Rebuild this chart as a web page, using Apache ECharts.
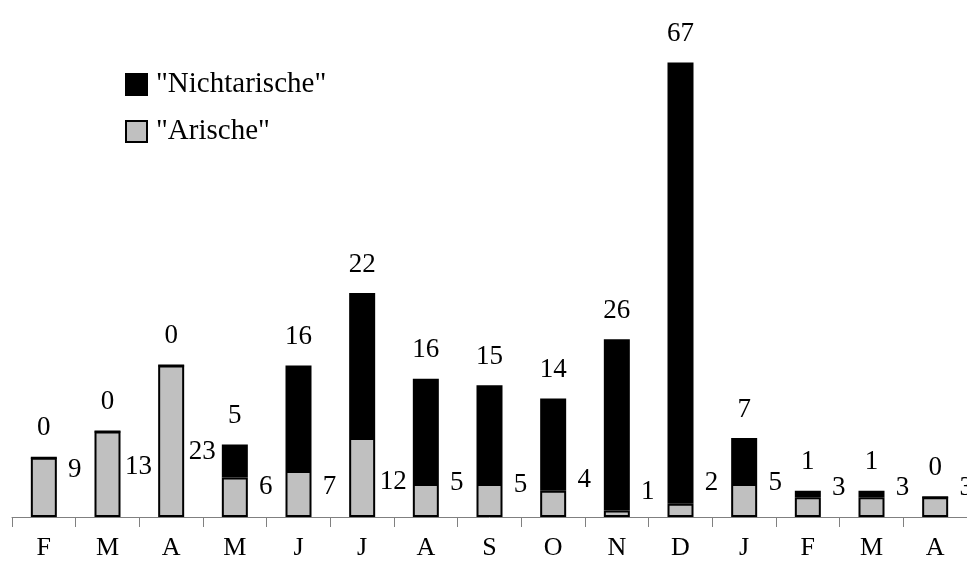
<!DOCTYPE html>
<html>
<head>
<meta charset="utf-8">
<script src="https://cdn.jsdelivr.net/npm/echarts@6/dist/echarts.min.js"></script>
<style>
  html, body { margin: 0; padding: 0; background: #fff; }
  #chart { width: 967px; height: 565px; }
</style>
</head>
<body>
<div id="chart"></div>
<script>
// Monate (Feb bis Apr des Folgejahres)
const months = ['F', 'M', 'A', 'M', 'J', 'J', 'A', 'S', 'O', 'N', 'D', 'J', 'F', 'M', 'A']
const arische = [9, 13, 23, 6, 7, 12, 5, 5, 4, 1, 2, 5, 3, 3, 3]
const nichtarische = [0, 0, 0, 5, 16, 22, 16, 15, 14, 26, 67, 7, 1, 1, 0]

// how far above the axis the grey labels sit (px), as placed in the original
const arischeLabelRise = [47, 50, 65, 30, 30, 35, 34, 32, 37, 25, 34, 34, 29, 29, 29]

const serif = '"Liberation Serif", "DejaVu Serif", serif'

const chart = echarts.init(document.getElementById('chart'))

const option = {
  backgroundColor: '#fff',
  animation: false,
  grid: { left: 12, right: 0, top: 56, bottom: 48 },
  legend: {
    orient: 'vertical',
    left: 120,
    top: 65,
    itemWidth: 21,
    itemHeight: 21,
    itemGap: 18,
    icon: 'rect',
    data: ['"Nichtarische"', '"Arische"'],
    textStyle: {
      fontFamily: serif,
      fontSize: 29,
      color: '#000',
      padding: [0, 0, 0, 4],
    },
  },
  xAxis: {
    type: 'category',
    data: months,
    axisLine: { lineStyle: { color: '#808080', width: 1 } },
    axisTick: { show: true, length: 10, lineStyle: { color: '#808080' } },
    axisLabel: {
      fontFamily: serif,
      fontSize: 26,
      color: '#000',
      margin: 18,
    },
  },
  yAxis: {
    type: 'value',
    min: 0,
    max: 70,
    show: false,
    splitLine: { show: false },
  },
  series: [
    {
      name: '"Arische"',
      type: 'bar',
      stack: 'total',
      barWidth: 26,
      data: arische.map((v, i) => ({
        value: v,
        label: { offset: [18, -arischeLabelRise[i]] },
      })),
      itemStyle: { color: '#c0c0c0', borderColor: '#000', borderWidth: 2 },
      label: {
        show: true,
        position: ['100%', '100%'],
        align: 'center',
        verticalAlign: 'middle',
        fontFamily: serif,
        fontSize: 27,
        color: '#000',
      },
    },
    {
      name: '"Nichtarische"',
      type: 'bar',
      stack: 'total',
      barWidth: 26,
      data: nichtarische,
      itemStyle: { color: '#000', borderColor: '#000', borderWidth: 2 },
      label: {
        show: true,
        position: 'top',
        distance: 15,
        fontFamily: serif,
        fontSize: 27,
        color: '#000',
      },
    },
  ],
}

chart.setOption(option)
</script>
</body>
</html>
